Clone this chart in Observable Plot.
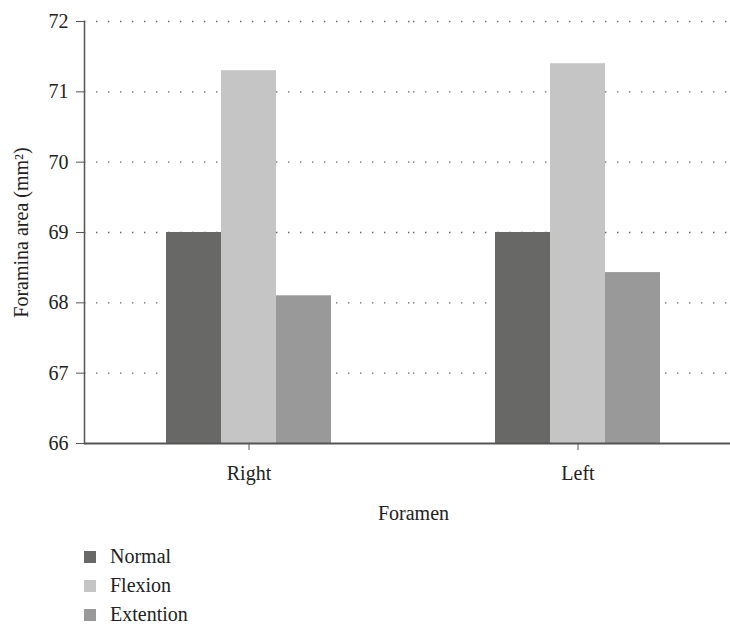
<!DOCTYPE html>
<html>
<head>
<meta charset="utf-8">
<script src="https://cdn.jsdelivr.net/npm/d3@7"></script>
<script src="https://cdn.jsdelivr.net/npm/@observablehq/plot@0.6"></script>
</head>
<body style="margin:0;padding:0;background:#fff;overflow:hidden;color:#222">
<div id="chart"></div>
<div id="legend" style="margin-top:2px;margin-left:84px;font-size:20px"></div>
<script>
const foramen = ["Right", "Left"];
const conditions = ["Normal", "Flexion", "Extention"];
const normal = [69.0, 69.0];
const flexion = [71.3, 71.4];
const extention = [68.1, 68.43];
const colors = ["#686866", "#c4c5c4", "#999999"];
const yTicks = [66, 67, 68, 69, 70, 71, 72];
const FONT = "'Liberation Serif', serif";

const series = [normal, flexion, extention];
const data = [];
foramen.forEach((f, i) => {
  conditions.forEach((c, j) => data.push({foramen: f, condition: c, value: series[j][i]}));
});

const chart = Plot.plot({
  width: 742,
  height: 540,
  marginLeft: 84,
  marginRight: 0,
  marginTop: 21,
  marginBottom: 97,
  style: {fontSize: "20px", color: "#222", maxWidth: "none", background: "#fff"},
  fx: {domain: foramen, padding: 0},
  x: {domain: conditions, paddingInner: 0, paddingOuter: 1.49, axis: null},
  y: {domain: [66, 72]},
  color: {domain: conditions, range: colors},
  marks: [
    Plot.ruleY(yTicks.filter(d => d > 66), {stroke: "#666", strokeWidth: 1.4, strokeDasharray: "1.4 10.6", strokeDashoffset: -12}),
    Plot.barY(data, {fx: "foramen", x: "condition", y1: 66, y2: "value", fill: "condition"}),
    Plot.ruleY([66], {stroke: "#555", strokeWidth: 2}),
    Plot.frame({anchor: "left", facetAnchor: "left", stroke: "#555", strokeWidth: 1.5}),
    Plot.axisY({ticks: yTicks, tickFormat: d => d, tickSize: 8, tickPadding: 8, stroke: "#555", fill: "#222", fontSize: 20,
      label: "Foramina area (mm²)", labelAnchor: "center", labelOffset: 71, labelArrow: false}),
    Plot.axisFx({anchor: "bottom", tickSize: 7, tickPadding: 15, stroke: "#555", fill: "#222", fontSize: 20,
      label: "Foramen", labelAnchor: "center", labelOffset: 76, labelArrow: false})
  ]
});
document.getElementById("chart").appendChild(chart);

const legend = document.getElementById("legend");
conditions.forEach((c, i) => {
  const row = document.createElement("div");
  row.style.cssText = "height:29px;display:flex;align-items:center";
  const sw = document.createElement("span");
  sw.style.cssText = "width:12px;height:12px;display:inline-block;margin-right:14px;background:" + colors[i];
  const t = document.createElement("span");
  t.textContent = c;
  row.appendChild(sw);
  row.appendChild(t);
  legend.appendChild(row);
});

document.querySelectorAll("body, svg, g, text, tspan, div, span").forEach(el => {
  el.style.setProperty("font-family", FONT, "important");
  if (el.hasAttribute && el.hasAttribute("font-family")) el.setAttribute("font-family", FONT);
});
</script>
</body>
</html>
